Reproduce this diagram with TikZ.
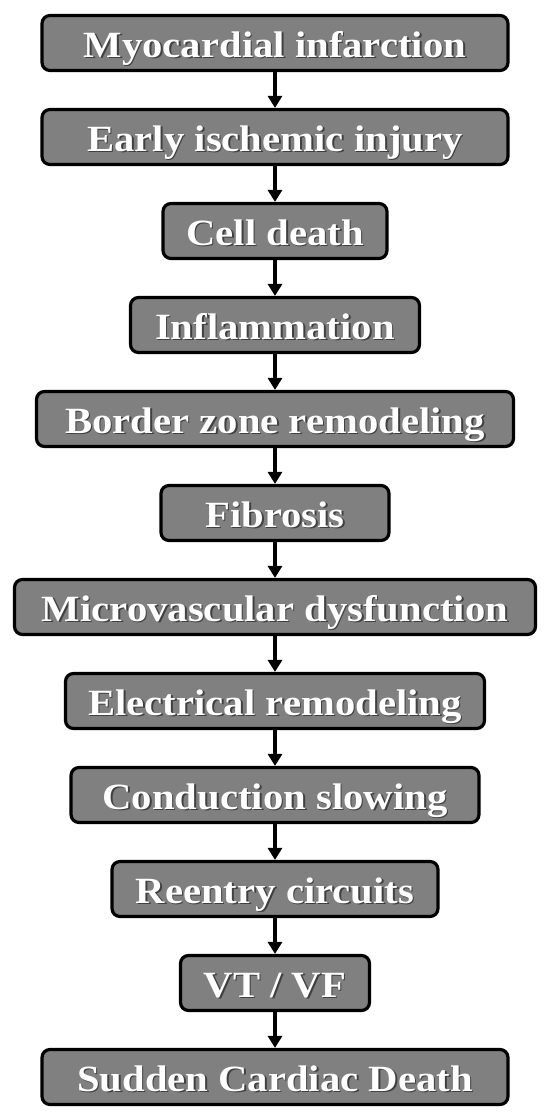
\documentclass[tikz,border=0pt]{standalone}
\usepackage{fontspec}
\setmainfont{Liberation Serif}
\newfontfamily\boxfont[FakeStretch=1.1]{Liberation Serif}
\usetikzlibrary{arrows.meta}
\newcommand\shtext[1]{\makebox[0pt][l]{\hspace{1.6pt}\raisebox{-1.6pt}{\textcolor{black!75}{#1}}}#1}
\tikzset{
  flowbox/.style={draw=black, line width=3.2pt, fill=black!50, rounded corners=8pt,
    minimum height=55pt, inner sep=0pt, text=white, text height=28pt, text depth=0pt,
    font=\boxfont\fontsize{37}{40}\selectfont\bfseries},
  flowarrow/.style={line width=3.2pt, -{Triangle[width=14pt,length=12pt]}}
}
\begin{document}
\begin{tikzpicture}[x=1pt,y=1pt]
\useasboundingbox (0,0) rectangle (550,-1120);
\node[flowbox, minimum width=466pt] (n1) at (275,-43) {\shtext{Myocardial infarction}};
\node[flowbox, minimum width=466pt] (n2) at (275,-137) {\shtext{Early ischemic injury}};
\node[flowbox, minimum width=224pt] (n3) at (275,-231) {\shtext{Cell death}};
\node[flowbox, minimum width=289pt] (n4) at (275,-325) {\shtext{Inflammation}};
\node[flowbox, minimum width=477pt] (n5) at (275,-419) {\shtext{Border zone remodeling}};
\node[flowbox, minimum width=228pt] (n6) at (275,-513) {\shtext{Fibrosis}};
\node[flowbox, minimum width=521pt] (n7) at (275,-607) {\shtext{Microvascular dysfunction}};
\node[flowbox, minimum width=419pt] (n8) at (275,-701) {\shtext{Electrical remodeling}};
\node[flowbox, minimum width=408pt] (n9) at (275,-795) {\shtext{Conduction slowing}};
\node[flowbox, minimum width=326pt] (n10) at (275,-889) {\shtext{Reentry circuits}};
\node[flowbox, minimum width=189pt] (n11) at (275,-983) {\shtext{VT / VF}};
\node[flowbox, minimum width=466pt] (n12) at (275,-1077) {\shtext{Sudden Cardiac Death}};
\foreach \a/\b in {n1/n2,n2/n3,n3/n4,n4/n5,n5/n6,n6/n7,n7/n8,n8/n9,n9/n10,n10/n11,n11/n12}{
  \draw[flowarrow] (\a.south) -- (\b.north);
}
\end{tikzpicture}
\end{document}
